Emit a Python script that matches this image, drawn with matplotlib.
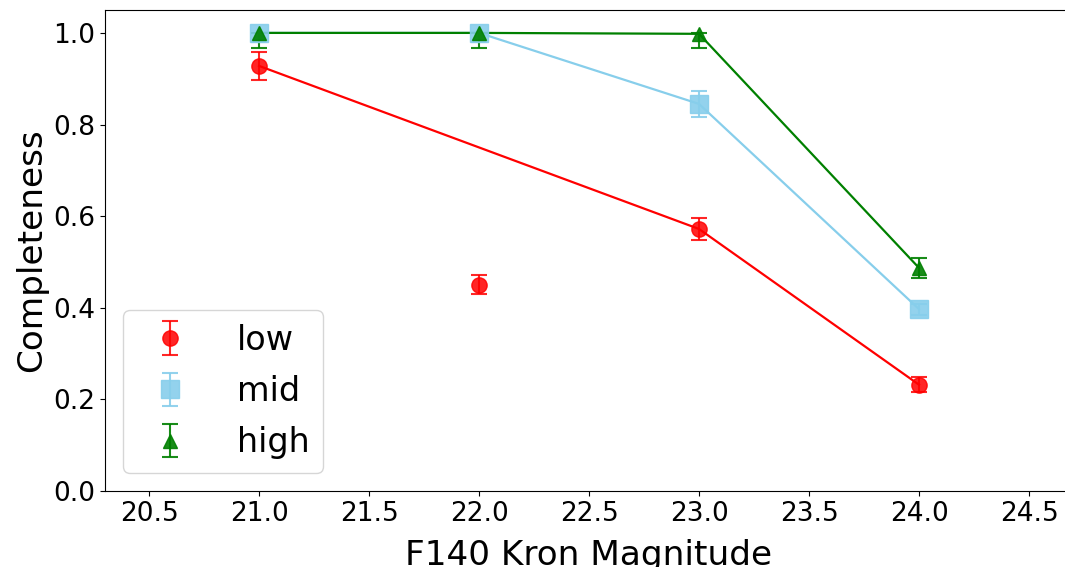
import matplotlib
matplotlib.use("Agg")
import matplotlib.pyplot as plt
import numpy as np

# magnitude bins
mag = [21.0, 22.0, 23.0, 24.0]

# completeness per bin with error bars (lower, upper)
low = [0.928, 0.450, 0.572, 0.232]
low_err_lo = [0.030, 0.021, 0.024, 0.016]
low_err_hi = [0.030, 0.021, 0.024, 0.016]

mid = [1.000, 1.000, 0.845, 0.397]
mid_err_lo = [0.020, 0.020, 0.028, 0.012]
mid_err_hi = [0.000, 0.000, 0.028, 0.012]

high = [1.000, 1.000, 0.998, 0.487]
high_err_lo = [0.032, 0.032, 0.032, 0.021]
high_err_hi = [0.000, 0.000, 0.002, 0.021]

# connecting curves
low_line_mag = [21.0, 23.0, 24.0]
low_line = [0.928, 0.572, 0.232]
mid_line = [1.000, 1.000, 0.845, 0.397]
high_line = [1.000, 1.000, 0.998, 0.487]

xticks = [20.5, 21.0, 21.5, 22.0, 22.5, 23.0, 23.5, 24.0, 24.5]
yticks = [0.0, 0.2, 0.4, 0.6, 0.8, 1.0]

fig = plt.figure(figsize=(10.65, 5.67), dpi=100)
ax = fig.add_axes([105 / 1065, 76 / 567, 968 / 1065, 481 / 567])

ax.errorbar(mag, low, yerr=[low_err_lo, low_err_hi], fmt="o", color="red",
            ms=11, capsize=6, elinewidth=1.5, capthick=1.5, alpha=0.85, label="low")
ax.errorbar(mag, mid, yerr=[mid_err_lo, mid_err_hi], fmt="s", color="skyblue",
            ms=13.5, capsize=6, elinewidth=1.5, capthick=1.5, alpha=0.9, label="mid")
ax.errorbar(mag, high, yerr=[high_err_lo, high_err_hi], fmt="^", color="green",
            ms=10, capsize=6, elinewidth=1.5, capthick=1.5, alpha=0.9, label="high")

ax.plot(low_line_mag, low_line, "-", color="red", lw=1.6)
ax.plot(mag, mid_line, "-", color="skyblue", lw=1.6)
ax.plot(mag, high_line, "-", color="green", lw=1.6)

ax.set_xlim(20.3, 24.7)
ax.set_ylim(0, 1.05)
ax.set_xticks(xticks)
ax.set_yticks(yticks)
ax.tick_params(labelsize=19)
ax.set_xlabel("F140 Kron Magnitude", fontsize=24.7, labelpad=9)
ax.set_ylabel("Completeness", fontsize=24.7)
ax.legend(loc="lower left", fontsize=24, handletextpad=1.0, labelspacing=0.55,
          borderaxespad=0.55)

fig.savefig("out.png", dpi=100)
